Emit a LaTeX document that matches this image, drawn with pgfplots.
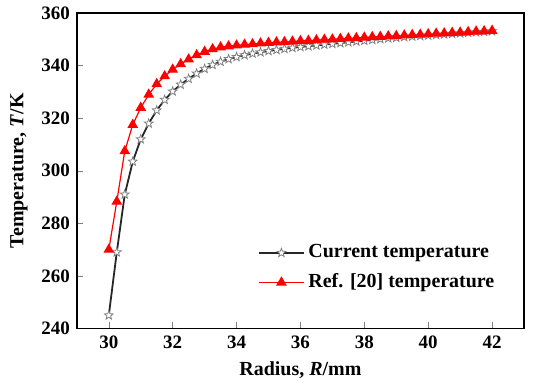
\documentclass[border=0pt]{standalone}
\usepackage{pgfplots}
\pgfplotsset{compat=1.18}
\usepackage{fontspec}
\setmainfont{Liberation Serif}
\pgfdeclareplotmark{ostar}{%
  \pgfpathmoveto{\pgfqpointpolar{90}{\pgfplotmarksize}}%
  \pgfpathlineto{\pgfqpointpolar{126}{0.42\pgfplotmarksize}}%
  \pgfpathlineto{\pgfqpointpolar{162}{\pgfplotmarksize}}%
  \pgfpathlineto{\pgfqpointpolar{198}{0.42\pgfplotmarksize}}%
  \pgfpathlineto{\pgfqpointpolar{234}{\pgfplotmarksize}}%
  \pgfpathlineto{\pgfqpointpolar{270}{0.42\pgfplotmarksize}}%
  \pgfpathlineto{\pgfqpointpolar{306}{\pgfplotmarksize}}%
  \pgfpathlineto{\pgfqpointpolar{342}{0.42\pgfplotmarksize}}%
  \pgfpathlineto{\pgfqpointpolar{18}{\pgfplotmarksize}}%
  \pgfpathlineto{\pgfqpointpolar{54}{0.42\pgfplotmarksize}}%
  \pgfpathclose
  \pgfusepathqfillstroke}
\begin{document}
\begin{tikzpicture}
\begin{axis}[
  name=ax,
  width=224pt, height=158pt, scale only axis,
  xmin=29, xmax=43, ymin=240, ymax=360,
  xtick={30,32,...,42}, ytick={240,260,...,360},
  tick align=inside, xtick pos=bottom, ytick pos=left,
  major tick length=3pt,
  /pgf/number format/assume math mode=true,
  ticklabel style={font=\bfseries\fontsize{9.5}{11}\selectfont},
  xlabel={Radius, \textbf{\textit{R}}/mm},
  ylabel={Temperature, \textbf{\textit{T}}/K},
  label style={font=\bfseries\fontsize{10}{12}\selectfont},
  axis line style={line width=0.7pt},
  legend style={draw=none, fill=none, at={(0.405,0.105)}, anchor=south west,
    font=\bfseries\fontsize{10}{12}\selectfont, row sep=2.5pt, inner sep=0pt},
  legend cell align=left,
  legend image code/.code={\draw[mark repeat=2,mark phase=2,#1] plot coordinates {(0cm,0cm)(0.39cm,0cm)(0.78cm,0cm)};},
]
\addplot[black!85, line width=0.9pt, mark=ostar, mark size=2.3pt,
  mark options={draw=gray, fill=white, line width=0.4pt}] coordinates {
(30.00,245) (30.25,269) (30.50,291) (30.75,303.5) (31.00,312) (31.25,318)
(31.50,323) (31.75,327) (32.00,330.2) (32.25,332.8) (32.50,335) (32.75,337)
(33.00,338.8) (33.25,340.3) (33.50,341.5) (33.75,342.5) (34.00,343.3) (34.25,344)
(34.50,344.6) (34.75,345.1) (35.00,345.6) (35.25,346) (35.50,346.4) (35.75,346.8)
(36.00,347.1) (36.25,347.4) (36.50,347.7) (36.75,348) (37.00,348.3) (37.25,348.6)
(37.50,348.9) (37.75,349.2) (38.00,349.5) (38.25,349.8) (38.50,350.1) (38.75,350.4)
(39.00,350.6) (39.25,350.9) (39.50,351.1) (39.75,351.3) (40.00,351.5) (40.25,351.7)
(40.50,351.9) (40.75,352.1) (41.00,352.3) (41.25,352.5) (41.50,352.7) (41.75,352.9)
(42.00,353.1)};
\addlegendentry{Current temperature}
\addplot[red, line width=0.6pt, mark=triangle*, mark size=2.5pt,
  mark options={fill=red, draw=red}] coordinates {
(30.00,270) (30.25,288.3) (30.50,307.5) (30.75,317.5) (31.00,324) (31.25,329)
(31.50,333) (31.75,336) (32.00,338.5) (32.25,340.6) (32.50,342.4) (32.75,344)
(33.00,345.3) (33.25,346.3) (33.50,347) (33.75,347.4) (34.00,347.7) (34.25,348)
(34.50,348.2) (34.75,348.5) (35.00,348.7) (35.25,348.9) (35.50,349.0) (35.75,349.2)
(36.00,349.4) (36.25,349.5) (36.50,349.7) (36.75,349.9) (37.00,350.0) (37.25,350.2)
(37.50,350.4) (37.75,350.5) (38.00,350.7) (38.25,350.9) (38.50,351.0) (38.75,351.2)
(39.00,351.3) (39.25,351.5) (39.50,351.7) (39.75,351.8) (40.00,352.0) (40.25,352.2)
(40.50,352.3) (40.75,352.5) (41.00,352.6) (41.25,352.8) (41.50,353.0) (41.75,353.1)
(42.00,353.3)};
\addlegendentry{Ref. [20] temperature}
\end{axis}
\path (ax.south west) ++(-38.5pt,-26pt);
\path (ax.north east) ++(6.5pt,6.5pt);
\end{tikzpicture}
\end{document}
